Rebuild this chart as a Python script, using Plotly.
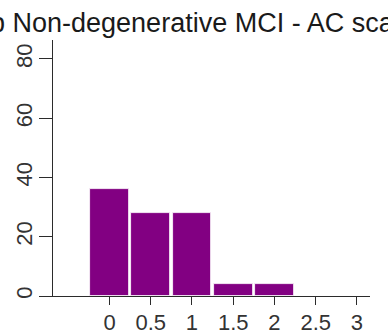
import plotly.graph_objects as go

# AC scale scores and percentage of patients at each score
scores = [0, 0.5, 1, 1.5, 2, 2.5, 3]
percent = [36, 28, 28, 4, 4, 0, 0]
y_ticks = [0, 20, 40, 60, 80]
x_ticks = [0, 0.5, 1, 1.5, 2, 2.5, 3]
x_tick_text = ["0", "0.5", "1", "1.5", "2", "2.5", "3"]
title_text = "b Non-degenerative MCI - AC scale"

font_family = "Liberation Sans, Arial, sans-serif"
axis_color = "#2b2b2b"

fig = go.Figure(
    go.Bar(
        x=scores,
        y=percent,
        width=0.47,
        marker=dict(color="#820082", line=dict(color="#ffffff", width=0.8)),
        hoverinfo="skip",
    )
)

fig.update_layout(
    width=388,
    height=335,
    margin=dict(l=53, r=18, t=40, b=39, autoexpand=False),
    paper_bgcolor="white",
    plot_bgcolor="white",
    showlegend=False,
    font=dict(family=font_family, color="#333333"),
    bargap=0,
)

fig.update_xaxes(
    range=[-0.685, 3.158],
    tickmode="array",
    tickvals=x_ticks,
    ticktext=x_tick_text,
    ticks="outside",
    ticklen=8,
    tickwidth=1.3,
    tickcolor=axis_color,
    showline=True,
    linecolor=axis_color,
    linewidth=1.3,
    showgrid=False,
    zeroline=False,
    tickfont=dict(size=22, color="#333333"),
    ticklabelstandoff=-2,
    automargin=False,
    fixedrange=True,
)

fig.update_yaxes(
    range=[0, 86.4],
    tickmode="array",
    tickvals=y_ticks,
    ticks="outside",
    ticklen=13,
    tickwidth=1.3,
    tickcolor=axis_color,
    showline=True,
    linecolor=axis_color,
    linewidth=1.3,
    showgrid=False,
    zeroline=False,
    tickangle=-90,
    tickfont=dict(size=22, color="#333333"),
    ticklabelstandoff=-2,
    automargin=False,
    fixedrange=True,
)

fig.add_annotation(
    text=title_text,
    xref="paper",
    yref="paper",
    x=-0.2035,
    y=1.066,
    xanchor="left",
    yanchor="middle",
    showarrow=False,
    font=dict(size=27, color="#1a1a1a", family=font_family),
)

fig.write_html("out.html")
